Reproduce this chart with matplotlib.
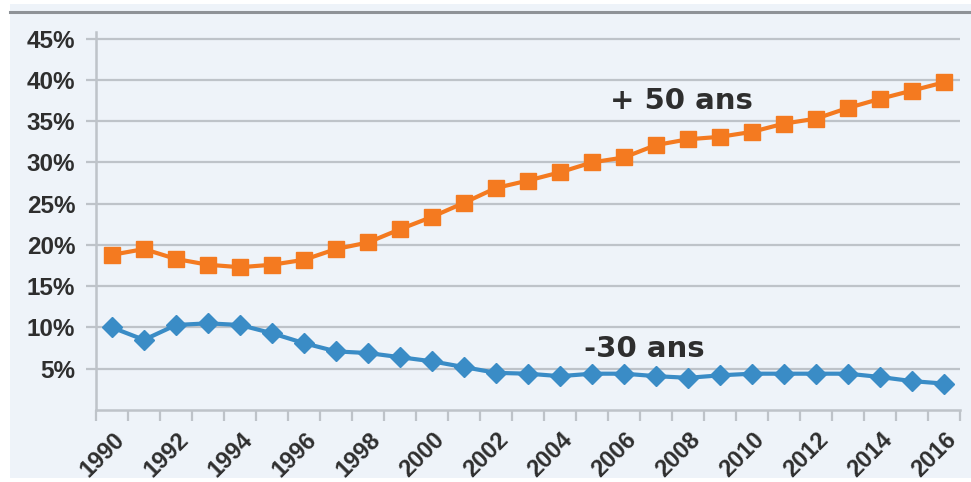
import matplotlib.pyplot as plt
from matplotlib.patches import Rectangle
from matplotlib.lines import Line2D
from matplotlib.transforms import ScaledTranslation

# Share of age groups, 1990-2016 (percent)
years = list(range(1990, 2017))
over_50 = [18.8, 19.5, 18.3, 17.6, 17.3, 17.6, 18.2, 19.5, 20.3, 21.9,
           23.4, 25.1, 26.9, 27.8, 28.8, 30.0, 30.6, 32.1, 32.8, 33.1,
           33.7, 34.7, 35.3, 36.6, 37.7, 38.7, 39.7]
under_30 = [10.0, 8.5, 10.3, 10.5, 10.3, 9.3, 8.1, 7.1, 6.9, 6.4,
            5.9, 5.2, 4.5, 4.4, 4.1, 4.4, 4.4, 4.1, 3.9, 4.2,
            4.4, 4.4, 4.4, 4.4, 4.0, 3.5, 3.2]
y_ticks = [5, 10, 15, 20, 25, 30, 35, 40, 45]

ORANGE = "#F47A20"
BLUE = "#3A8CC6"
PANEL = "#EEF3F9"
GRID = "#BEC3C9"
TEXT = "#2E2E2E"

plt.rcParams['font.family'] = ['Liberation Sans', 'DejaVu Sans']

fig = plt.figure(figsize=(9.71, 4.82), dpi=100)
fig.patch.set_facecolor("white")

# light panel behind the chart, with a dark rule along the top
fig.add_artist(Rectangle((10 / 971, 4 / 482), 1, 474 / 482,
                         transform=fig.transFigure, facecolor=PANEL,
                         edgecolor="none", zorder=0))
fig.add_artist(Line2D([10 / 971, 1], [1 - 12 / 482, 1 - 12 / 482],
                      transform=fig.transFigure, color="#8E9297", lw=2.2))

ax = fig.add_axes([96 / 971, 1 - 410 / 482, 864 / 971, 378 / 482])
ax.set_facecolor(PANEL)

x = list(range(len(years)))
ax.plot(x, over_50, color=ORANGE, lw=3, marker="s", ms=12,
        markeredgecolor=ORANGE, zorder=3)
ax.plot(x, under_30, color=BLUE, lw=3, marker="D", ms=10.5,
        markeredgecolor=BLUE, zorder=3)

ax.set_xlim(-0.5, len(years) - 0.5)
ax.set_ylim(0, 45.8)

# y axis: percent labels with gridlines
ax.set_yticks(y_ticks)
ax.set_yticklabels([f"{v}%" for v in y_ticks])
ax.yaxis.grid(True, color=GRID, lw=1.6)
ax.tick_params(axis="y", length=7, width=1.6, color=GRID, pad=8,
               labelsize=17.5, labelcolor=TEXT)
for lbl in ax.get_yticklabels():
    lbl.set_fontweight("bold")

# x axis: tick marks between categories, labels every other year
ax.set_xticks([i - 0.5 for i in range(len(years) + 1)], minor=True)
ax.set_xticks(x[::2])
ax.set_xticklabels([str(y) for y in years[::2]], rotation=45,
                   ha="right", va="center", rotation_mode="anchor",
                   fontsize=17, fontweight="bold", color=TEXT)
ax.tick_params(axis="x", which="major", length=0, pad=19)
ax.tick_params(axis="x", which="minor", length=8, width=1.6, color=GRID)
shift = ScaledTranslation(9 / 100, 0, fig.dpi_scale_trans)
for lbl in ax.get_xticklabels():
    lbl.set_transform(lbl.get_transform() + shift)

for side in ["top", "right"]:
    ax.spines[side].set_visible(False)
for side in ["left", "bottom"]:
    ax.spines[side].set_color(GRID)
    ax.spines[side].set_linewidth(1.8)
ax.set_axisbelow(True)

ax.text(17.8, 37.4, "+ 50 ans", ha="center", va="center", family="DejaVu Sans",
        fontsize=21, fontweight="bold", color=TEXT)
ax.text(16.65, 7.4, "-30 ans", ha="center", va="center", family="DejaVu Sans",
        fontsize=21, fontweight="bold", color=TEXT)

fig.savefig("out.png", dpi=100, facecolor=fig.get_facecolor())
